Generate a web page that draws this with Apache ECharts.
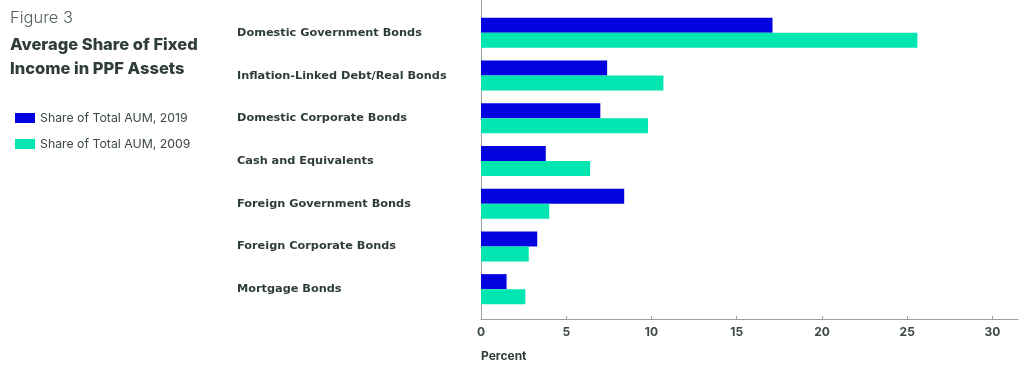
<!DOCTYPE html>
<html>
<head>
<meta charset="utf-8">
<script src="https://cdn.jsdelivr.net/npm/echarts@6/dist/echarts.min.js"></script>
<style>
html,body{margin:0;padding:0;background:#fff;}
#chart{width:1024px;height:365px;}
</style>
</head>
<body>
<div id="chart"></div>
<script>
const categories = [
  "Domestic Government Bonds",
  "Inflation-Linked Debt/Real Bonds",
  "Domestic Corporate Bonds",
  "Cash and Equivalents",
  "Foreign Government Bonds",
  "Foreign Corporate Bonds",
  "Mortgage Bonds"
];
const share2019 = [17.1, 7.4, 7.0, 3.8, 8.4, 3.3, 1.5];
const share2009 = [25.6, 10.7, 9.8, 6.4, 4.0, 2.8, 2.6];
const seriesNames = ["Share of Total AUM, 2019", "Share of Total AUM, 2009"];
const tickValues = [0, 5, 10, 15, 20, 25, 30];

const textDark = "#2f3d38";
const font = "Inter";

const chart = echarts.init(document.getElementById('chart'));
chart.setOption({
  animation: false,
  backgroundColor: "#ffffff",
  title: [
    { text: "Figure 3", left: 10, top: 10, padding: 0,
      textStyle: { fontFamily: font, fontSize: 16.5, fontWeight: 300, color: "#55605c" } },
    { text: "Average Share of Fixed\nIncome in PPF Assets", left: 10, top: 33, padding: 0,
      textStyle: { fontFamily: font, fontSize: 16.5, fontWeight: 800, color: textDark, lineHeight: 24 } },
    { text: "Percent", left: 481, top: 350, padding: 0,
      textStyle: { fontFamily: font, fontSize: 12, fontWeight: 700, color: textDark } }
  ],
  legend: {
    orient: "vertical", left: 10, top: 106,
    itemWidth: 20, itemHeight: 10, itemGap: 12,
    icon: "rect",
    data: seriesNames,
    textStyle: { fontFamily: font, fontSize: 12.3, color: "#3b4843", lineHeight: 14 }
  },
  grid: [
    { left: 481, right: 6, top: 11.5, bottom: 54.5, containLabel: false },
    { left: 481, right: 6, top: 0, bottom: 46, containLabel: false }
  ],
  xAxis: [
    { type: "value", gridIndex: 0, min: 0, max: 31.5, show: false },
    { type: "value", gridIndex: 1, min: 0, max: 31.5, interval: 5,
      axisLine: { show: true, lineStyle: { color: "#9aa3a0", width: 1 } },
      axisTick: { show: true, inside: true, length: 3, customValues: tickValues, lineStyle: { color: "#9aa3a0" } },
      axisLabel: { customValues: tickValues, margin: 7,
        fontFamily: font, fontSize: 12, fontWeight: 700, color: "#3b4843" },
      splitLine: { show: false } }
  ],
  yAxis: [
    { type: "category", gridIndex: 0, data: categories, inverse: true,
      axisLine: { show: false }, axisTick: { show: false },
      axisLabel: { align: "left", margin: 244,
        fontFamily: "DejaVu Sans", fontSize: 11.3, fontWeight: 700, color: textDark } },
    { type: "value", gridIndex: 1, min: 0, max: 1,
      axisLine: { show: true, lineStyle: { color: "#9aa3a0", width: 1 } },
      axisTick: { show: false }, axisLabel: { show: false }, splitLine: { show: false } }
  ],
  series: [
    { name: seriesNames[0], type: "bar", xAxisIndex: 0, yAxisIndex: 0,
      data: share2019, barWidth: 15, barGap: "0%",
      itemStyle: { color: "#0303e0" } },
    { name: seriesNames[1], type: "bar", xAxisIndex: 0, yAxisIndex: 0,
      data: share2009, barWidth: 15, barGap: "0%",
      itemStyle: { color: "#00e6b0" } }
  ]
});
</script>
</body>
</html>
